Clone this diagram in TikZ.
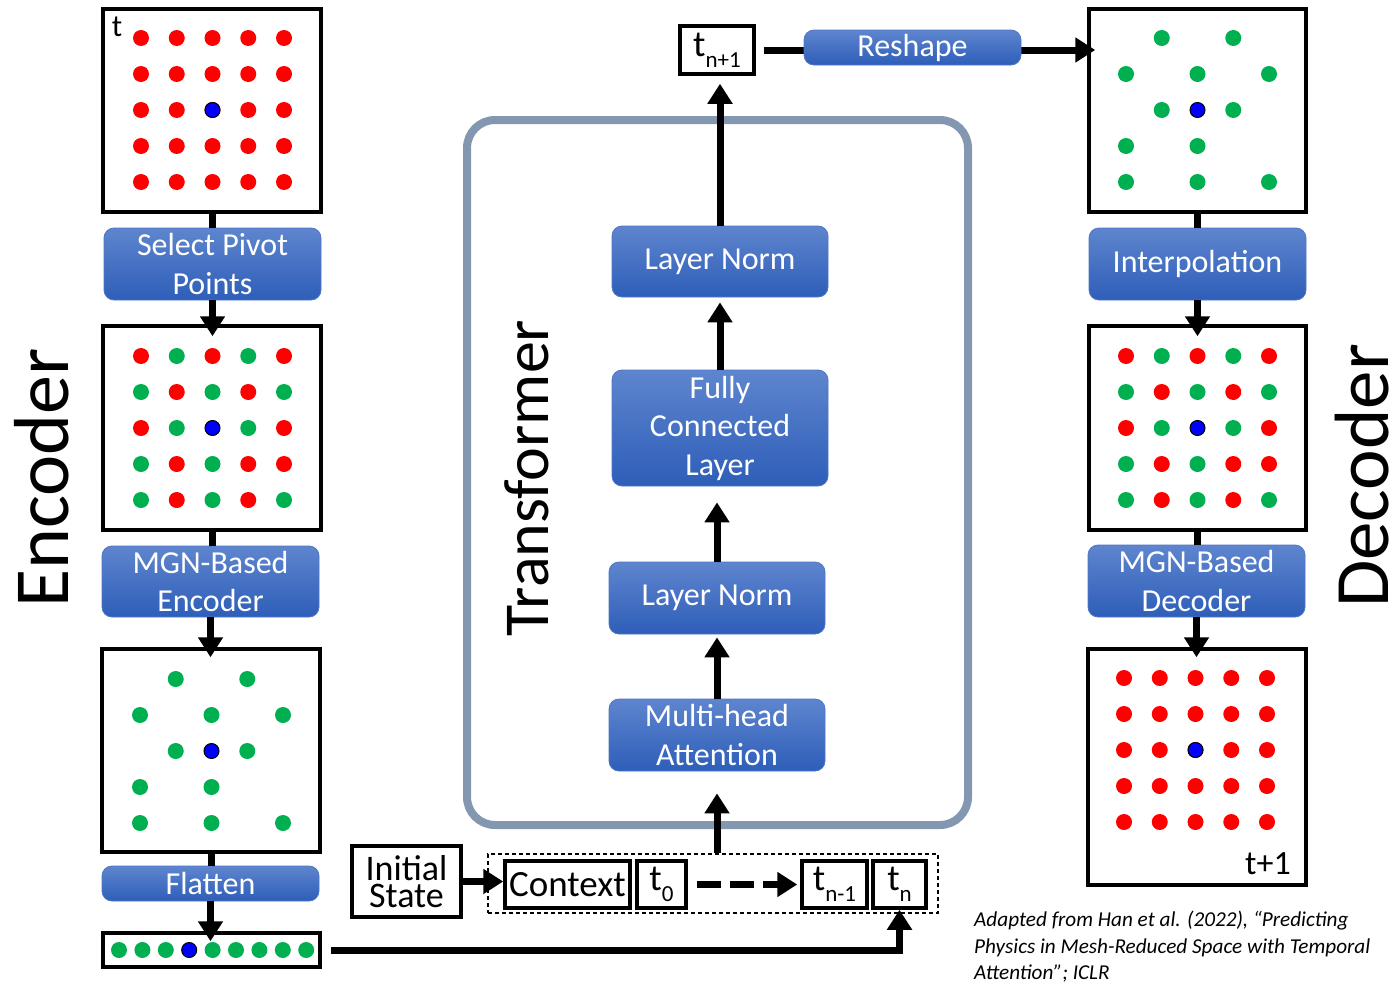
\documentclass[tikz,border=0pt]{standalone}
\usepackage{fontspec}
\setmainfont{Carlito}
\usetikzlibrary{arrows.meta,calc}
\definecolor{btnTop}{RGB}{94,133,206}
\definecolor{btnBot}{RGB}{46,94,185}
\definecolor{btnEdge}{RGB}{78,118,198}
\definecolor{frameC}{RGB}{132,151,176}
\definecolor{dRed}{RGB}{255,0,0}
\definecolor{dGreen}{RGB}{0,176,80}
\definecolor{dBlue}{RGB}{0,0,255}
\newcommand\tsub[1]{t\raisebox{-0.3em}{\fontsize{23}{23}\selectfont #1}}
\newcommand\gridall[3]{% origin x, origin y, colour
  \foreach \i in {0,...,4}{\foreach \j in {0,...,4}{\fill[#3] (#1+35.75*\i,#2+36*\j) circle[radius=8pt];}}}
\newcommand\gridgreen[2]{%
  \foreach \i/\j in {1/0,3/0,0/1,2/1,4/1,1/2,3/2,0/3,2/3,0/4,2/4,4/4}{\fill[dGreen] (#1+35.75*\i,#2+36*\j) circle[radius=8pt];}}
\newcommand\gridred[2]{%
  \foreach \i/\j in {0/0,2/0,4/0,1/1,3/1,0/2,4/2,1/3,3/3,4/3,1/4,3/4}{\fill[dRed] (#1+35.75*\i,#2+36*\j) circle[radius=8pt];}}
\newcommand\bluedot[2]{\filldraw[fill=dBlue,draw=black,line width=1pt] (#1,#2) circle[radius=7.5pt];}
\begin{document}
\begin{tikzpicture}[x=1pt,y=-1pt,
  btn/.style={rounded corners=10pt, top color=btnTop, bottom color=btnBot, draw=btnEdge, line width=0.8pt,
    text=white, font=\fontsize{32}{38.5}\selectfont, align=center, inner sep=0pt, minimum width=217pt},
  gbox/.style={draw, line width=3.5pt, inner sep=0pt, fill=white},
  sbox/.style={draw, line width=3.5pt, inner sep=0pt, font=\fontsize{37}{37}\selectfont},
  arr/.style={line width=7pt, -{Triangle[width=24pt,length=20pt]}},
  conn/.style={line width=7pt},
  big/.style={rotate=90, inner sep=0pt}]
\useasboundingbox[fill=white] (0,0) rectangle (1395,985);

% ---------------- Encoder column ----------------
\node[gbox, minimum width=218pt, minimum height=203pt] (eb1) at (212,110.5) {};
\node[btn, minimum height=72pt] (sel) at (212.5,264) {Select Pivot\\Points};
\node[gbox, minimum width=218pt, minimum height=204pt] (eb2) at (212,428) {};
\node[btn, minimum height=71pt] (mgnE) at (210.5,581.5) {MGN-Based\\Encoder};
\node[gbox, minimum width=218pt, minimum height=203pt] (eb3) at (211,750.5) {};
\node[btn, minimum height=35pt] (flat) at (210.5,883.5) {Flatten};
\node[gbox, minimum width=217pt, minimum height=34pt] (fb) at (211.5,950) {};
\node[font=\fontsize{31}{31}\selectfont, inner sep=0pt] (tlab) at (117,27) {t};

\node[big, font=\fontsize{78}{78}\selectfont] (enc) at (42,478) {Encoder};

% ---------------- Transformer ----------------
\node[draw=frameC, line width=8pt, rounded corners=28pt, minimum width=501pt, minimum height=705pt] (tf) at (717.5,472.5) {};
\node[big, font=\fontsize{64}{64}\selectfont] (trf) at (527,478) {Transformer};
\node[btn, minimum width=216pt, minimum height=71pt] (ln1) at (720,261.5) {Layer Norm};
\node[btn, minimum width=216pt, minimum height=116pt] (fc) at (720,428) {Fully\\Connected\\Layer};
\node[btn, minimum width=216pt, minimum height=72pt] (ln2) at (717,598) {Layer Norm};
\node[btn, minimum width=216pt, minimum height=72pt] (mha) at (717,735) {Multi-head\\Attention};
\node[sbox, minimum width=74pt, minimum height=48pt] (tn1) at (717,50) {\tsub{n+1}};

% ---------------- Decoder column ----------------
\node[gbox, minimum width=217pt, minimum height=203pt] (db1) at (1197.5,110.5) {};
\node[btn, minimum height=72pt] (interp) at (1197.5,264) {Interpolation};
\node[gbox, minimum width=217pt, minimum height=204pt] (db2) at (1197.5,428) {};
\node[btn, minimum height=72pt] (mgnD) at (1196.5,581) {MGN-Based\\Decoder};
\node[gbox, minimum width=218pt, minimum height=236pt] (db3) at (1197,767) {};
\node[font=\fontsize{34}{34}\selectfont, inner sep=0pt] (tplus) at (1268,864) {t+1};
\node[big, font=\fontsize{77}{77}\selectfont] (dec) at (1362,476) {Decoder};

% ---------------- Sequence row ----------------
\node[sbox, minimum width=109pt, minimum height=71pt, align=center,
      font=\fontsize{36}{27}\selectfont] (init) at (406.5,881.5) {Initial\\State};
\node[draw, line width=1.1pt, dash pattern=on 4pt off 3pt, minimum width=450pt, minimum height=59pt, inner sep=0pt] (seq) at (713,883.5) {};
\node[sbox, minimum width=125pt, minimum height=47pt] (ctx) at (567.5,884.5) {Context};
\node[sbox, minimum width=49pt, minimum height=47pt] (t0) at (661.5,884.5) {\tsub{0}};
\node[sbox, minimum width=65pt, minimum height=47pt] (tnm1) at (834.5,884.5) {\tsub{n-1}};
\node[sbox, minimum width=53pt, minimum height=47pt] (tn) at (899.5,884.5) {\tsub{n}};

% ---------------- Caption ----------------
\node[anchor=north west, align=left, inner sep=0pt, font=\fontsize{21.2}{26.5}\selectfont\itshape] (cap) at (974,911)
  {Adapted from Han et al. (2022), “Predicting\\Physics in Mesh-Reduced Space with Temporal\\Attention”; ICLR};

% ---------------- Dots ----------------
\gridall{141}{38}{dRed}\bluedot{212.5}{110}
\gridgreen{141}{356}\gridred{141}{356}\bluedot{212.5}{428}
\gridgreen{140}{679}\bluedot{211.5}{751}
\foreach \k in {0,1,2,4,5,6,7,8}{\fill[dGreen] (119+23.4*\k,950) circle[radius=8pt];}
\bluedot{189.2}{950}
\gridgreen{1126}{38}\bluedot{1197.5}{110}
\gridgreen{1126}{356}\gridred{1126}{356}\bluedot{1197.5}{428}
\gridall{1124}{678}{dRed}\bluedot{1195.5}{750}

% ---------------- Connectors ----------------
\draw[conn] (eb1.south) -- (eb1.south |- sel.north);
\draw[arr] (sel.south) -- ($(sel.south |- eb2.north)+(0,12)$);
\draw[conn] (eb2.south) -- (eb2.south |- mgnE.north);
\draw[arr] (mgnE.south) -- ($(mgnE.south |- eb3.north)+(0,10)$);
\draw[conn] (eb3.south) -- (eb3.south |- flat.north);
\draw[arr] (flat.south) -- ($(flat.south |- fb.north)+(0,10)$);
\draw[arr] ($(fb.east)+(9,0)$) -| (tn.south);

\draw[arr] (init.east) -- (init.east -| ctx.west);
\draw[line width=7pt, dash pattern=on 24pt off 9pt, -{Triangle[width=24pt,length=20pt]}]
  ($(t0.east)+(9,0)$) -- ($(tnm1.west)+(-3,0)$);

\draw[arr] (mha.south |- seq.north) -- ($(mha.south)+(0,22)$);
\draw[arr] (mha.north) -- ($(ln2.south)+(0,3)$);
\draw[arr] (ln2.north) -- ($(ln2.north |- fc.south)+(0,16)$);
\draw[arr] (fc.north) -- ($(fc.north |- ln1.south)+(0,5)$);
\draw[arr] (ln1.north) -- ($(ln1.north |- tn1.south)+(0,8)$);

\draw[arr] ($(tn1.east)+(8,0)$) -- ($(tn1.east -| db1.west)+(8,0)$);
\node[btn, minimum height=35pt] (reshape) at (912.5,47.5) {Reshape};

\draw[conn] (db1.south) -- (db1.south |- interp.north);
\draw[arr] (interp.south) -- ($(interp.south |- db2.north)+(0,12)$);
\draw[conn] (db2.south) -- (db2.south |- mgnD.north);
\draw[arr] (mgnD.south) -- ($(mgnD.south |- db3.north)+(0,10)$);
\end{tikzpicture}
\end{document}
